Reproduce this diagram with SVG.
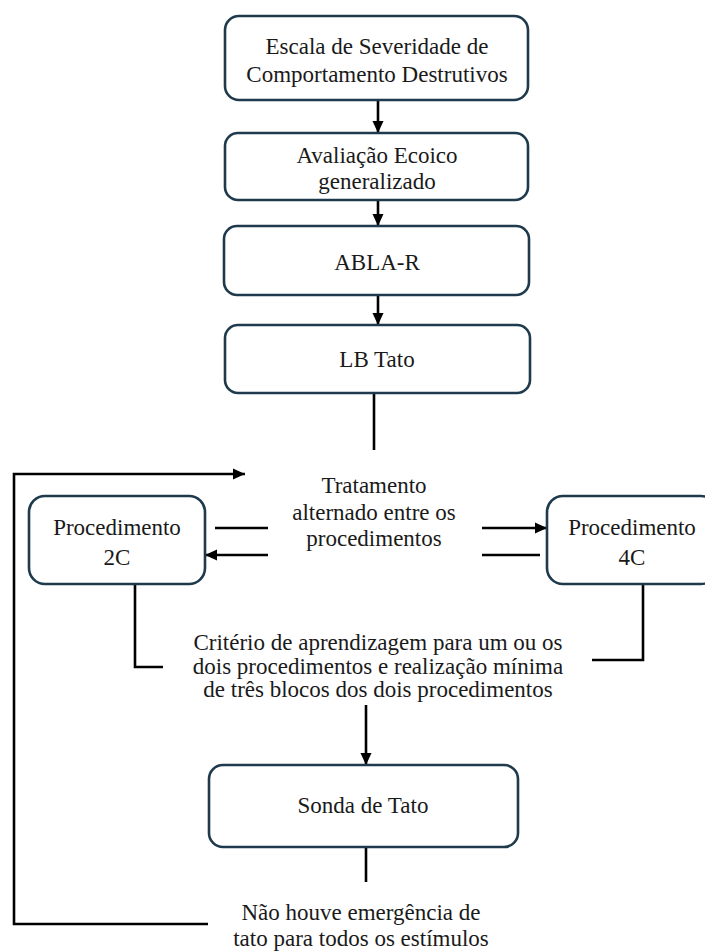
<svg xmlns="http://www.w3.org/2000/svg" width="705" height="951" viewBox="0 0 705 951">
<defs>
<marker id="ah" markerUnits="userSpaceOnUse" markerWidth="12" markerHeight="12" viewBox="0 0 12 12" refX="12" refY="6" orient="auto">
<path d="M0,0.5 L12,6 L0,11.5 Z" fill="#000"/>
</marker>
<style>
.box{fill:#fff;stroke:#1e3a4c;stroke-width:2.6}
.t{font-size:23px;fill:#1a1a1a;text-anchor:middle}
.c{fill:none;stroke:#000;stroke-width:2.6}
.a{fill:none;stroke:#000;stroke-width:2.6;marker-end:url(#ah)}
</style>
</defs>
<rect width="705" height="951" fill="#fff"/>
<g id="connectors">
<path class="a" d="M378,100 V133"/>
<path class="a" d="M378,200 V226"/>
<path class="a" d="M378,295 V325"/>
<path class="c" d="M374,393 V450"/>
<path class="a" d="M208,924 H14 V474 H245"/>
<path class="c" d="M215,528 H268"/>
<path class="a" d="M268,555 H205"/>
<path class="a" d="M482,528 H547"/>
<path class="c" d="M482,555 H540"/>
<path class="c" d="M135,584 V667 H163"/>
<path class="c" d="M643,584 V660 H592"/>
<path class="a" d="M366,705 V765"/>
<path class="c" d="M366,847 V882"/>
</g>
<g font-family="Liberation Serif, Times New Roman, DejaVu Serif, serif">
<g id="n1">
<rect class="box" x="225" y="16" width="303" height="84" rx="14"/>
<text class="t" x="377" y="54">Escala de Severidade de</text>
<text class="t" x="377" y="82">Comportamento Destrutivos</text>
</g>
<g id="n2">
<rect class="box" x="225" y="133" width="303" height="67" rx="13"/>
<text class="t" x="377" y="163">Avaliação Ecoico</text>
<text class="t" x="377" y="189">generalizado</text>
</g>
<g id="n3">
<rect class="box" x="224" y="226" width="305" height="69" rx="13"/>
<text class="t" x="377" y="270">ABLA-R</text>
</g>
<g id="n4">
<rect class="box" x="225" y="325" width="305" height="68" rx="13"/>
<text class="t" x="377" y="367">LB Tato</text>
</g>
<g id="n5">
<text class="t" x="374" y="493">Tratamento</text>
<text class="t" x="374" y="520">alternado entre os</text>
<text class="t" x="374" y="546">procedimentos</text>
</g>
<g id="n6">
<rect class="box" x="29" y="496" width="176" height="88" rx="16"/>
<text class="t" x="117" y="535">Procedimento</text>
<text class="t" x="117" y="565">2C</text>
</g>
<g id="n7">
<rect class="box" x="547" y="496" width="170" height="88" rx="16"/>
<text class="t" x="632" y="535">Procedimento</text>
<text class="t" x="632" y="565">4C</text>
</g>
<g id="n8">
<text class="t" x="378" y="650">Critério de aprendizagem para um ou os</text>
<text class="t" x="378" y="674">dois procedimentos e realização mínima</text>
<text class="t" x="378" y="697">de três blocos dos dois procedimentos</text>
</g>
<g id="n9">
<rect class="box" x="209" y="765" width="309" height="82" rx="14"/>
<text class="t" x="363" y="813">Sonda de Tato</text>
</g>
<g id="n10">
<text class="t" x="361" y="920">Não houve emergência de</text>
<text class="t" x="361" y="946">tato para todos os estímulos</text>
</g>
</g>
</svg>
